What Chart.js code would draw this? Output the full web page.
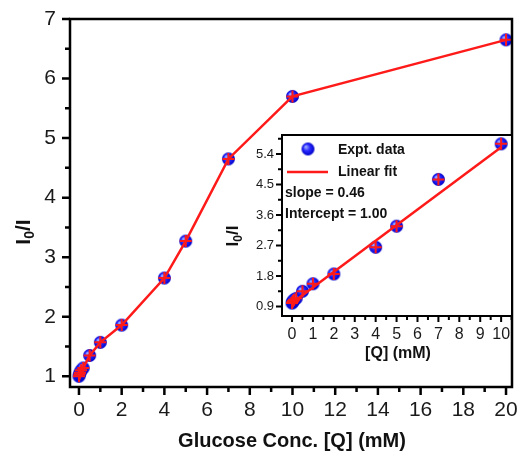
<!DOCTYPE html>
<html>
<head>
<meta charset="utf-8">
<script src="https://cdn.jsdelivr.net/npm/chart.js@4.4.0/dist/chart.umd.min.js"></script>
<style>
  html, body { margin: 0; padding: 0; background: #fff; }
  #wrap { position: relative; width: 520px; height: 463px; }
  #wrap canvas { position: absolute; left: 0; top: 0; }
</style>
</head>
<body>
<div id="wrap">
  <canvas id="mainChart" width="520" height="463"></canvas>
  <canvas id="insetChart" width="520" height="463"></canvas>
</div>
<script>
// main plot: glucose concentration (mM) vs I0/I
const conc = [0, 0.02, 0.05, 0.1, 0.2, 0.5, 1, 2, 4, 5, 7, 10, 20];
const ratio = [1.00, 1.03, 1.06, 1.10, 1.14, 1.35, 1.57, 1.86, 2.65, 3.27, 4.65, 5.70, 6.65];

// inset: data up to 10 mM with linear fit
const insetConc = [0, 0.02, 0.05, 0.1, 0.2, 0.5, 1, 2, 4, 5, 7, 10];
const insetRatio = [1.00, 1.03, 1.06, 1.10, 1.14, 1.35, 1.57, 1.86, 2.65, 3.27, 4.65, 5.70];
const fitX = [0, 10];
const fitY = [1.00, 5.60];

const mainXTicks = [0, 2, 4, 6, 8, 10, 12, 14, 16, 18, 20];
const mainYTicks = [1, 2, 3, 4, 5, 6, 7];
const insetXTicks = [0, 1, 2, 3, 4, 5, 6, 7, 8, 9, 10];
const insetYTicks = [0.9, 1.8, 2.7, 3.6, 4.5, 5.4];

const FONT = "'Liberation Sans', Arial, sans-serif";
const RED = '#ff1a1a';

function makeSphere(r) {
  const c = document.createElement('canvas');
  c.width = c.height = r * 2 + 2;
  const g = c.getContext('2d');
  const cx = r + 1;
  const grad = g.createRadialGradient(cx - r * 0.35, cx - r * 0.35, r * 0.1, cx, cx, r);
  grad.addColorStop(0, '#9aa8ff');
  grad.addColorStop(0.45, '#2a2aff');
  grad.addColorStop(1, '#0000c8');
  g.fillStyle = grad;
  g.beginPath();
  g.arc(cx, cx, r, 0, Math.PI * 2);
  g.fill();
  return c;
}
const sphere = makeSphere(6.5);

function toPts(xs, ys) {
  return xs.map((x, i) => ({ x: x, y: ys[i] }));
}

function midpoints(ticks, min, max) {
  const step = ticks[1] - ticks[0];
  const out = [];
  for (let v = ticks[0] - step / 2; v <= max + 1e-9; v += step) {
    if (v >= min) out.push(v);
  }
  return out;
}

// draws box frame, outward major/minor ticks, axis titles and an optional legend
const framePlugin = {
  id: 'frame',
  afterDraw(chart, args, o) {
    const ctx = chart.ctx;
    const a = chart.chartArea;
    const xs = chart.scales.x, ys = chart.scales.y;
    ctx.save();
    ctx.strokeStyle = '#000';
    ctx.lineWidth = o.lw;
    ctx.strokeRect(a.left, a.top, a.right - a.left, a.bottom - a.top);

    const xMinor = midpoints(o.xTicks, xs.min, xs.max);
    const yMinor = midpoints(o.yTicks, ys.min, ys.max);
    ctx.beginPath();
    o.xTicks.forEach(v => {
      const p = xs.getPixelForValue(v);
      ctx.moveTo(p, a.bottom); ctx.lineTo(p, a.bottom + o.major);
    });
    xMinor.forEach(v => {
      const p = xs.getPixelForValue(v);
      ctx.moveTo(p, a.bottom); ctx.lineTo(p, a.bottom + o.minor);
    });
    o.yTicks.forEach(v => {
      const p = ys.getPixelForValue(v);
      ctx.moveTo(a.left, p); ctx.lineTo(a.left - o.major, p);
    });
    yMinor.forEach(v => {
      const p = ys.getPixelForValue(v);
      ctx.moveTo(a.left, p); ctx.lineTo(a.left - o.minor, p);
    });
    ctx.stroke();

    // x title
    ctx.fillStyle = '#111';
    ctx.font = 'bold ' + o.xTitle.size + 'px ' + FONT;
    ctx.textAlign = 'center';
    ctx.textBaseline = 'middle';
    ctx.fillText(o.xTitle.text, o.xTitle.x, o.xTitle.y);

    // y title with subscript: I0/I
    const s = o.yTitle.size;
    ctx.translate(o.yTitle.x, o.yTitle.y);
    ctx.rotate(-Math.PI / 2);
    ctx.textAlign = 'left';
    ctx.textBaseline = 'alphabetic';
    const big = 'bold ' + s + 'px ' + FONT;
    const small = 'bold ' + Math.round(s * 0.68) + 'px ' + FONT;
    ctx.font = big;
    const w1 = ctx.measureText('I').width;
    const w3 = ctx.measureText('/I').width;
    ctx.font = small;
    const w2 = ctx.measureText('0').width;
    let x0 = -(w1 + w2 + w3) / 2;
    const base = s * 0.36;
    ctx.font = big; ctx.fillText('I', x0, base);
    ctx.font = small; ctx.fillText('0', x0 + w1, base + s * 0.22);
    ctx.font = big; ctx.fillText('/I', x0 + w1 + w2, base);
    ctx.setTransform(1, 0, 0, 1, 0, 0);

    if (o.legend) {
      const L = o.legend;
      ctx.drawImage(sphere, L.sx - sphere.width / 2, L.sy - sphere.height / 2);
      ctx.strokeStyle = RED;
      ctx.lineWidth = 2.5;
      ctx.beginPath();
      ctx.moveTo(L.lx1, L.ly); ctx.lineTo(L.lx2, L.ly);
      ctx.stroke();
      ctx.fillStyle = '#111';
      ctx.font = 'bold 14px ' + FONT;
      ctx.textAlign = 'left';
      ctx.textBaseline = 'middle';
      L.texts.forEach(t => ctx.fillText(t[0], t[1], t[2]));
    }
    ctx.restore();
  }
};

const whiteArea = {
  id: 'whiteArea',
  beforeDraw(chart) {
    const a = chart.chartArea;
    chart.ctx.save();
    chart.ctx.fillStyle = '#fff';
    chart.ctx.fillRect(a.left, a.top, a.right - a.left, a.bottom - a.top);
    chart.ctx.restore();
  }
};

function axisOpts(min, max, ticks, fontSize, pad, size, isX, fmt) {
  return {
    type: 'linear',
    min: min,
    max: max,
    grid: { display: false, drawTicks: false },
    border: { display: false },
    afterBuildTicks: s => { s.ticks = ticks.map(v => ({ value: v })); },
    afterFit: s => {
      if (isX) s.height = size; else s.width = size;
      s.paddingLeft = s.paddingRight = s.paddingTop = s.paddingBottom = 0;
    },
    ticks: {
      padding: pad,
      color: '#1a1a1a',
      font: { family: FONT, size: fontSize },
      callback: fmt,
      maxRotation: 0,
      autoSkip: false
    }
  };
}

new Chart(document.getElementById('mainChart'), {
  type: 'scatter',
  data: {
    datasets: [{
      data: toPts(conc, ratio),
      showLine: true,
      borderColor: RED,
      borderWidth: 2.5,
      pointStyle: 'cross',
      pointRadius: 6,
      pointBorderColor: RED,
      pointBorderWidth: 2,
      order: 1
    }, {
      data: toPts(conc, ratio),
      showLine: false,
      pointStyle: sphere,
      order: 2
    }]
  },
  options: {
    responsive: false,
    animation: false,
    layout: { padding: { left: 0, top: 19, right: 6, bottom: 0 } },
    plugins: {
      legend: { display: false },
      tooltip: { enabled: false },
      frame: {
        lw: 2.5, major: 8, minor: 5,
        xTicks: mainXTicks, yTicks: mainYTicks,
        xTitle: { text: 'Glucose Conc. [Q] (mM)', x: 292, y: 441, size: 20 },
        yTitle: { x: 22, y: 232, size: 21 }
      }
    },
    scales: {
      x: axisOpts(-0.42, 20.28, mainXTicks, 21, 11, 76, true, v => v),
      y: axisOpts(0.82, 7, mainYTicks, 21, 14, 70, false, v => v)
    }
  },
  plugins: [framePlugin]
});

new Chart(document.getElementById('insetChart'), {
  type: 'scatter',
  data: {
    datasets: [{
      data: toPts(fitX, fitY),
      showLine: true,
      borderColor: RED,
      borderWidth: 2.5,
      pointRadius: 0,
      order: 1
    }, {
      data: toPts(insetConc, insetRatio),
      showLine: false,
      pointStyle: 'cross',
      pointRadius: 6,
      pointBorderColor: RED,
      pointBorderWidth: 2,
      order: 2
    }, {
      data: toPts(insetConc, insetRatio),
      showLine: false,
      pointStyle: sphere,
      order: 3
    }]
  },
  options: {
    responsive: false,
    animation: false,
    layout: { padding: { left: 222, top: 135, right: 7, bottom: 97 } },
    plugins: {
      legend: { display: false },
      tooltip: { enabled: false },
      frame: {
        lw: 2, major: 6, minor: 4,
        xTicks: insetXTicks, yTicks: insetYTicks,
        xTitle: { text: '[Q] (mM)', x: 398, y: 354, size: 16 },
        yTitle: { x: 232, y: 236, size: 17 },
        legend: {
          sx: 308, sy: 149, lx1: 287, lx2: 328, ly: 172,
          texts: [['Expt. data', 338, 150], ['Linear fit', 338, 172],
                  ['slope = 0.46', 285, 193], ['Intercept = 1.00', 285, 214]]
        }
      }
    },
    scales: {
      x: axisOpts(-0.48, 10.52, insetXTicks, 16, 9, 50, true, v => v),
      y: axisOpts(0.62, 5.96, insetYTicks, 13, 8, 60, false, v => v.toFixed(1))
    }
  },
  plugins: [whiteArea, framePlugin]
});
</script>
</body>
</html>
